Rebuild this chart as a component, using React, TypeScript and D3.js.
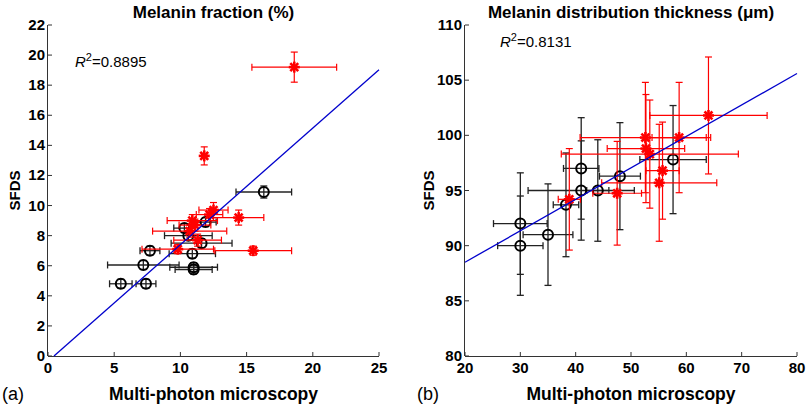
import React from "react";
import * as d3 from "d3";

// ---------- Panel (a): Melanin fraction (%) ----------
const aBlackX = [16.3, 10.3, 7.7, 10.9, 7.2, 11.0, 11.0, 5.5, 7.4, 11.6, 11.9, 10.6];
const aBlackY = [10.9, 8.5, 7.0, 6.8, 6.05, 5.9, 5.75, 4.8, 4.8, 7.5, 8.9, 8.0];
const aBlackXErr = [2.1, 0.8, 0.75, 1.75, 2.7, 1.8, 1.4, 0.85, 0.75, 2.3, 0.8, 1.8];
const aBlackYErr = [0.4, 0.3, 0.3, 0.3, 0.3, 0.3, 0.3, 0.3, 0.3, 0.3, 0.3, 0.3];

const aRedX = [18.6, 11.8, 14.4, 15.5, 12.5, 12.2, 10.9, 11.1, 10.7, 11.3, 9.8];
const aRedY = [19.2, 13.3, 9.2, 7.0, 9.7, 9.4, 9.0, 8.7, 8.3, 7.7, 7.1];
const aRedXErr = [3.2, 0.2, 1.9, 2.9, 1.1, 1.0, 1.9, 1.2, 2.8, 1.8, 2.7];
const aRedYErr = [1.0, 0.6, 0.5, 0.3, 0.5, 0.4, 0.4, 0.4, 0.4, 0.4, 0.3];

const aFitSlope = 0.775;
const aFitIntercept = -0.35;
const aXTicks = [0, 5, 10, 15, 20, 25];
const aYTicks = [0, 2, 4, 6, 8, 10, 12, 14, 16, 18, 20, 22];
const aTitle = "Melanin fraction (%)";
const aR2 = "0.8895";

// ---------- Panel (b): Melanin distribution thickness (µm) ----------
const bBlackX = [30, 30, 35, 38.25, 41, 41, 44, 48, 57.6];
const bBlackY = [90, 92, 91, 93.7, 97, 95, 95, 96.3, 97.8];
const bBlackXErr = [4.1, 4.85, 4.5, 2.3, 3.2, 9.6, 2.0, 3.7, 6.0];
const bBlackYErr = [4.5, 4.6, 4.6, 4.7, 4.6, 4.5, 4.6, 4.85, 4.9];

const bRedX = [64, 52.6, 58.7, 52.7, 53.4, 55.7, 55.1, 47.5, 38.85];
const bRedY = [101.8, 99.8, 99.8, 98.8, 98.3, 96.8, 95.7, 94.75, 94.2];
const bRedXErr = [10.6, 11.8, 4.9, 7.0, 16.0, 3.0, 10.4, 4.4, 2.0];
const bRedYErr = [5.3, 5.0, 5.0, 4.9, 4.9, 4.4, 5.3, 4.7, 4.6];

const bFitSlope = 0.285;
const bFitIntercept = 82.8;
const bXTicks = [20, 30, 40, 50, 60, 70, 80];
const bYTicks = [80, 85, 90, 95, 100, 105, 110];
const bTitle = "Melanin distribution thickness (\u03bcm)";
const bR2 = "0.8131";

const xLabel = "Multi-photon microscopy";
const yLabel = "SFDS";

const FONT = "'Liberation Sans', Arial, Helvetica, sans-serif";
const RED = "#ff0000";
const BLACK = "#000000";
const BLUE = "#0000cc";

type PanelProps = {
  xDomain: [number, number];
  yDomain: [number, number];
  xRange: [number, number];
  yRange: [number, number];
  xTicks: number[];
  yTicks: number[];
  title: string;
  r2: string;
  r2Pos: [number, number];
  blackX: number[]; blackY: number[]; blackXErr: number[]; blackYErr: number[];
  redX: number[]; redY: number[]; redXErr: number[]; redYErr: number[];
  slope: number; intercept: number; fitX0: number;
  letter: string; letterX: number; yLabelX: number;
};

function ErrBar({ x, y, xe, ye, sx, sy, color, width }: any) {
  const cap = 3.5;
  const px = sx(x), py = sy(y);
  const x0 = sx(x - xe), x1 = sx(x + xe);
  const y0 = sy(y - ye), y1 = sy(y + ye);
  return (
    <g stroke={color} strokeWidth={width} fill="none">
      <line x1={x0} y1={py} x2={x1} y2={py} />
      <line x1={x0} y1={py - cap} x2={x0} y2={py + cap} />
      <line x1={x1} y1={py - cap} x2={x1} y2={py + cap} />
      <line x1={px} y1={y0} x2={px} y2={y1} />
      <line x1={px - cap} y1={y0} x2={px + cap} y2={y0} />
      <line x1={px - cap} y1={y1} x2={px + cap} y2={y1} />
    </g>
  );
}

function Asterisk({ cx, cy }: { cx: number; cy: number }) {
  const r = 5.5;
  const d = r * 0.72;
  return (
    <g stroke={RED} strokeWidth={2.6}>
      <line x1={cx - r} y1={cy} x2={cx + r} y2={cy} />
      <line x1={cx} y1={cy - r} x2={cx} y2={cy + r} />
      <line x1={cx - d} y1={cy - d} x2={cx + d} y2={cy + d} />
      <line x1={cx - d} y1={cy + d} x2={cx + d} y2={cy - d} />
    </g>
  );
}

function Panel(p: PanelProps) {
  const sx = d3.scaleLinear().domain(p.xDomain).range(p.xRange);
  const sy = d3.scaleLinear().domain(p.yDomain).range(p.yRange);
  const [xl, xr] = p.xRange;
  const [yb, yt] = p.yRange;
  const tick = 4;
  const fitX1 = p.xDomain[1];
  const line = d3.line<number>()
    .x((v) => sx(v))
    .y((v) => sy(p.slope * v + p.intercept));
  return (
    <g>
      <text x={(xl + xr) / 2} y={18} textAnchor="middle" fontFamily={FONT} fontWeight="bold" fontSize={17}>{p.title}</text>
      {/* axes */}
      <g stroke="#333" strokeWidth={1} fill="none">
        <line x1={xl} y1={yb + 0.5} x2={xr} y2={yb + 0.5} />
        <line x1={xl - 0.5} y1={yb} x2={xl - 0.5} y2={yt} />
        {p.xTicks.map((t) => (
          <line key={"xt" + t} x1={sx(t)} y1={yb} x2={sx(t)} y2={yb - tick} />
        ))}
        {p.yTicks.map((t) => (
          <line key={"yt" + t} x1={xl} y1={sy(t)} x2={xl + tick} y2={sy(t)} />
        ))}
      </g>
      {p.xTicks.map((t) => (
        <text key={"xl" + t} x={sx(t)} y={yb + 17} textAnchor="middle" fontFamily={FONT} fontWeight="bold" fontSize={15}>{t}</text>
      ))}
      {p.yTicks.map((t) => (
        <text key={"yl" + t} x={xl - 3} y={sy(t) + 5} textAnchor="end" fontFamily={FONT} fontWeight="bold" fontSize={15}>{t}</text>
      ))}
      <text x={(xl + xr) / 2} y={400} textAnchor="middle" fontFamily={FONT} fontWeight="bold" fontSize={17.5}>{xLabel}</text>
      <text x={p.letterX} y={400} fontFamily={FONT} fontSize={18}>{p.letter}</text>
      <text transform={`translate(${p.yLabelX},${(yb + yt) / 2}) rotate(-90)`} textAnchor="middle" fontFamily={FONT} fontWeight="bold" fontSize={15}>{yLabel}</text>
      <text x={p.r2Pos[0]} y={p.r2Pos[1]} fontFamily={FONT} fontSize={15}>
        <tspan fontStyle="italic">R</tspan>
        <tspan dy={-6} fontSize={11}>2</tspan>
        <tspan dy={6}>={p.r2}</tspan>
      </text>
      {/* black series */}
      {p.blackX.map((v, i) => (
        <ErrBar key={"be" + i} x={v} y={p.blackY[i]} xe={p.blackXErr[i]} ye={p.blackYErr[i]} sx={sx} sy={sy} color="#222" width={1.3} />
      ))}
      {p.blackX.map((v, i) => (
        <circle key={"bc" + i} cx={sx(v)} cy={sy(p.blackY[i])} r={5} fill="none" stroke={BLACK} strokeWidth={2} />
      ))}
      {/* red series */}
      {p.redX.map((v, i) => (
        <ErrBar key={"re" + i} x={v} y={p.redY[i]} xe={p.redXErr[i]} ye={p.redYErr[i]} sx={sx} sy={sy} color={RED} width={1.2} />
      ))}
      {p.redX.map((v, i) => (
        <Asterisk key={"ra" + i} cx={sx(v)} cy={sy(p.redY[i])} />
      ))}
      <path d={line([p.fitX0, fitX1]) || ""} stroke={BLUE} strokeWidth={1.3} fill="none" />
    </g>
  );
}

export default function App() {
  return (
    <svg width={807} height={408} style={{ position: "absolute", left: 0, top: 0, background: "#fff" }}>
      <rect x={0} y={0} width={807} height={408} fill="#fff" />
      <Panel
        xDomain={[0, 25]} yDomain={[0, 22]} xRange={[48, 379]} yRange={[356, 25]}
        xTicks={aXTicks} yTicks={aYTicks} title={aTitle} r2={aR2} r2Pos={[75, 67]}
        blackX={aBlackX} blackY={aBlackY} blackXErr={aBlackXErr} blackYErr={aBlackYErr}
        redX={aRedX} redY={aRedY} redXErr={aRedXErr} redYErr={aRedYErr}
        slope={aFitSlope} intercept={aFitIntercept} fitX0={-aFitIntercept / aFitSlope}
        letter="(a)" letterX={2} yLabelX={20}
      />
      <Panel
        xDomain={[20, 80]} yDomain={[80, 110]} xRange={[465, 797]} yRange={[356, 25]}
        xTicks={bXTicks} yTicks={bYTicks} title={bTitle} r2={bR2} r2Pos={[500, 47]}
        blackX={bBlackX} blackY={bBlackY} blackXErr={bBlackXErr} blackYErr={bBlackYErr}
        redX={bRedX} redY={bRedY} redXErr={bRedXErr} redYErr={bRedYErr}
        slope={bFitSlope} intercept={bFitIntercept} fitX0={20}
        letter="(b)" letterX={417} yLabelX={434}
      />
    </svg>
  );
}
